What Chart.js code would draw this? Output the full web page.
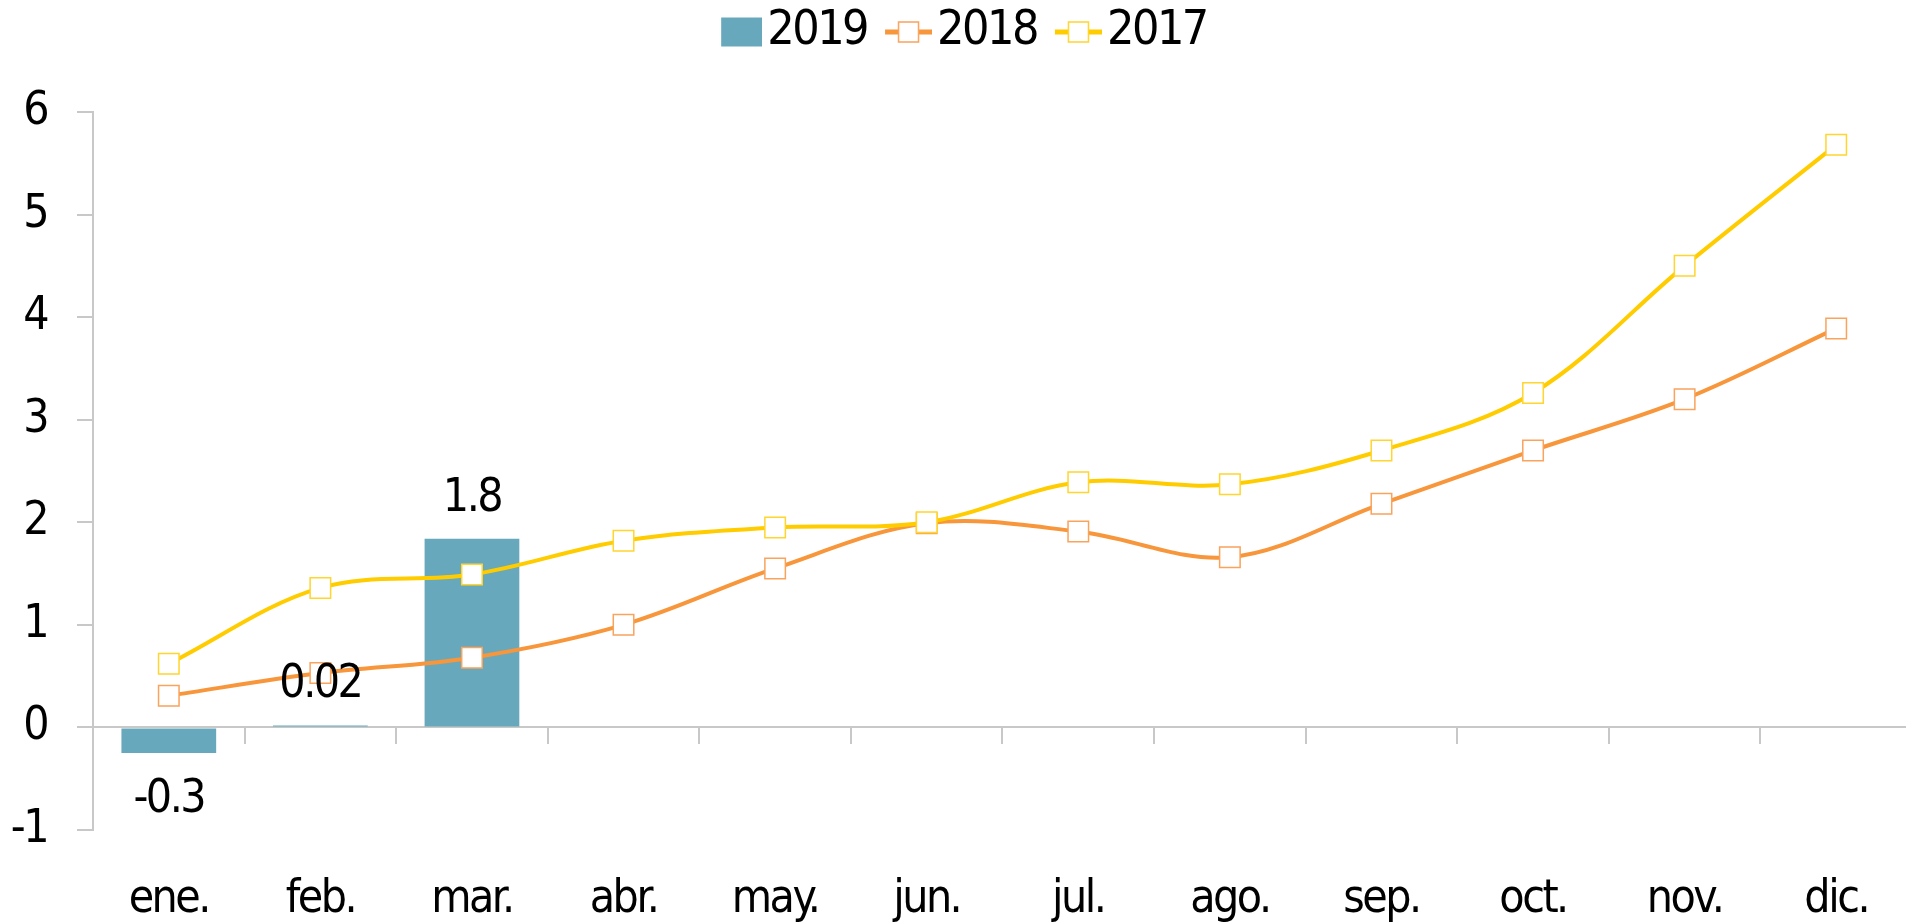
<!DOCTYPE html>
<html>
<head>
<meta charset="utf-8">
<script src="https://cdn.jsdelivr.net/npm/chart.js@4"></script>
<style>
html, body { margin: 0; padding: 0; background: #fff; overflow: hidden; }
</style>
</head>
<body>
<canvas id="chart" width="1912" height="922"></canvas>
<script>
const months = ['ene.', 'feb.', 'mar.', 'abr.', 'may.', 'jun.', 'jul.', 'ago.', 'sep.', 'oct.', 'nov.', 'dic.'];
const values2019 = [-0.25, 0.02, 1.84, null, null, null, null, null, null, null, null, null];
const values2018 = [0.31, 0.53, 0.68, 1.0, 1.55, 1.99, 1.91, 1.66, 2.18, 2.70, 3.20, 3.89];
const values2017 = [0.62, 1.36, 1.49, 1.82, 1.95, 2.0, 2.39, 2.37, 2.70, 3.26, 4.50, 5.68];

const FONT = "'Liberation Sans Narrow', 'DejaVu Sans Condensed', sans-serif";
const BAR = '#68a8bc';
const ORANGE = '#f7963b';
const YELLOW = '#ffcc00';
const AXIS = '#c8c8c8';
const TIGHT = '-2.5px';

Chart.defaults.font.family = FONT;
Chart.defaults.color = '#000';

// legend icons: line + square marker, or filled box, drawn on small canvases
function legendIcon(kind, color, edge) {
    const c = document.createElement('canvas');
    c.width = 76;
    c.height = 32;
    const ctx = c.getContext('2d');
    if (kind === 'bar') {
        ctx.fillStyle = color;
        ctx.fillRect(76 - 41, 1.5, 41, 29);
    } else {
        ctx.strokeStyle = color;
        ctx.lineWidth = 5;
        ctx.beginPath();
        ctx.moveTo(29, 16);
        ctx.lineTo(76, 16);
        ctx.stroke();
        ctx.fillStyle = '#fff';
        ctx.fillRect(42.5, 6, 20, 20);
        ctx.strokeStyle = edge;
        ctx.lineWidth = 1.5;
        ctx.strokeRect(42.5, 6, 20, 20);
    }
    return c;
}

const icons = [
    legendIcon('bar', BAR),
    legendIcon('line', ORANGE, '#f9a35c'),
    legendIcon('line', YELLOW, '#ffd52e')
];

const barLabels = {
    id: 'barLabels',
    afterDatasetsDraw(chart) {
        const ctx = chart.ctx;
        const meta = chart.getDatasetMeta(0);
        ctx.save();
        ctx.font = '46px ' + FONT;
        ctx.fillStyle = '#000';
        ctx.textAlign = 'center';
        ctx.textBaseline = 'middle';
        meta.data.forEach((bar, i) => {
            const v = values2019[i];
            if (v === null) return;
            const txt = Math.abs(v) < 0.1 ? v.toFixed(2) : v.toFixed(1);
            const y = v >= 0 ? bar.y - 40 : bar.y + 47;
            ctx.fillText(txt, bar.x, y);
        });
        ctx.restore();
    }
};

// keep the legend box tall so the plot starts where the reference does,
// and squeeze the text a little (no narrow font installed)
const layoutTweaks = {
    id: 'layoutTweaks',
    afterInit(chart) {
        const lg = chart.legend;
        const fit = lg.fit.bind(lg);
        lg.fit = function () {
            fit();
            this.height = 112;
        };
    },
    beforeLayout(chart) { chart.ctx.letterSpacing = TIGHT; },
    beforeDraw(chart) { chart.ctx.letterSpacing = TIGHT; }
};

function noSidePadding(scale) {
    scale.paddingLeft = 0;
    scale.paddingRight = 0;
}

new Chart(document.getElementById('chart'), {
    type: 'bar',
    data: {
        labels: months,
        datasets: [
            {
                label: '2019',
                data: values2019,
                backgroundColor: BAR,
                categoryPercentage: 1,
                barPercentage: 0.625,
                order: 3
            },
            {
                type: 'line',
                label: '2018',
                data: values2018,
                borderColor: ORANGE,
                borderWidth: 4,
                tension: 0.35,
                pointStyle: 'rect',
                pointRadius: 14.5,
                pointBackgroundColor: '#fff',
                pointBorderColor: '#f9a35c',
                pointBorderWidth: 1.5,
                order: 2
            },
            {
                type: 'line',
                label: '2017',
                data: values2017,
                borderColor: YELLOW,
                borderWidth: 4,
                tension: 0.35,
                pointStyle: 'rect',
                pointRadius: 14.5,
                pointBackgroundColor: '#fff',
                pointBorderColor: '#ffd52e',
                pointBorderWidth: 1.5,
                order: 1
            }
        ]
    },
    options: {
        responsive: false,
        animation: false,
        devicePixelRatio: 1,
        layout: { padding: 0, autoPadding: false },
        plugins: {
            tooltip: { enabled: false },
            legend: {
                position: 'top',
                labels: {
                    font: { size: 48 },
                    color: '#000',
                    usePointStyle: true,
                    pointStyleWidth: 38,
                    padding: 8,
                    generateLabels(chart) {
                        const items = Chart.defaults.plugins.legend.labels.generateLabels(chart);
                        items.sort((a, b) => a.datasetIndex - b.datasetIndex);
                        items.forEach(it => { it.pointStyle = icons[it.datasetIndex]; });
                        return items;
                    }
                }
            }
        },
        scales: {
            x: {
                axis: 'x',
                type: 'category',
                position: { y: 0 },
                offset: true,
                ticks: { display: false },
                grid: {
                    offset: true,
                    drawOnChartArea: false,
                    drawTicks: true,
                    tickLength: 16,
                    color: AXIS,
                    lineWidth: 2
                },
                border: { display: true, color: AXIS, width: 2 },
                afterFit: noSidePadding
            },
            x2: {
                axis: 'x',
                type: 'category',
                position: 'bottom',
                labels: months,
                offset: true,
                grid: { display: false, drawTicks: false },
                border: { display: false },
                ticks: { font: { size: 46 }, padding: 42, color: '#000', maxRotation: 0, autoSkip: false },
                afterFit(scale) {
                    noSidePadding(scale);
                    scale.height = 92;
                }
            },
            y: {
                min: -1,
                max: 6,
                ticks: { stepSize: 1, font: { size: 46 }, padding: 30, color: '#000' },
                grid: {
                    drawOnChartArea: false,
                    drawTicks: true,
                    tickLength: 16,
                    color: AXIS,
                    lineWidth: 2
                },
                border: { display: true, color: AXIS, width: 2 },
                afterFit(scale) { scale.width = 93; }
            }
        }
    },
    plugins: [barLabels, layoutTweaks]
});
</script>
</body>
</html>
